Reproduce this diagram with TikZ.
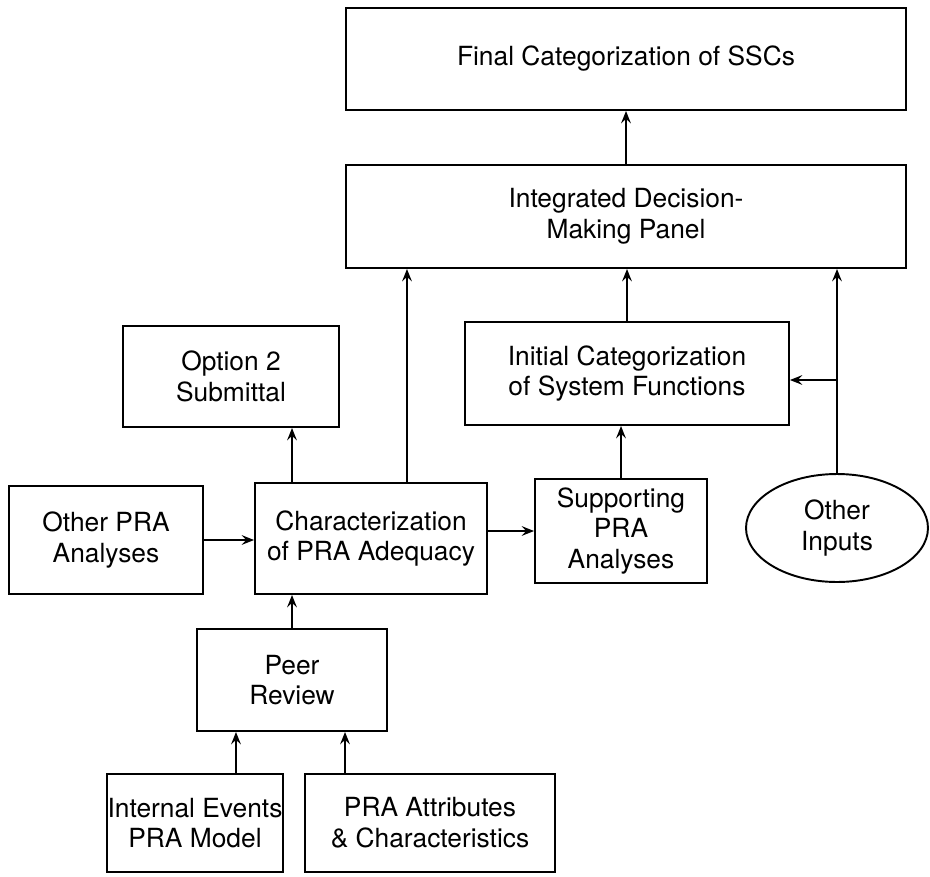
\documentclass[tikz,border=0pt]{standalone}
\usepackage{fontspec}
\setmainfont{TeX Gyre Heros}
\usetikzlibrary{arrows.meta,calc,shapes.geometric}

\begin{document}
\begin{tikzpicture}[x=0.02cm,y=-0.02cm,
  box/.style={draw,line width=1.1pt,align=center,inner sep=0pt,
    font=\fontsize{15}{17.5}\selectfont},
  flow/.style={-{Stealth[length=7pt,width=5.5pt,inset=2.5pt]},line width=1.1pt}]
\useasboundingbox (0,0) rectangle (930,876);

% top of the chart
\node[box,minimum width=11.2cm,minimum height=2.04cm] (final) at (626,59) {Final Categorization of SSCs};
\node[box,minimum width=11.2cm,minimum height=2.06cm] (panel) at (626,216.5) {Integrated Decision-\\Making Panel};

% middle row
\node[box,minimum width=4.32cm,minimum height=2.02cm] (option) at (231,376.5) {Option 2\\Submittal};
\node[box,minimum width=6.48cm,minimum height=2.06cm] (initial) at (627,373.5) {Initial Categorization\\of System Functions};

\node[box,minimum width=3.88cm,minimum height=2.16cm] (otherpra) at (106,540) {Other PRA\\Analyses};
\node[box,minimum width=4.64cm,minimum height=2.22cm] (charac) at (371,538.5) {Characterization\\of PRA Adequacy};
\node[box,minimum width=3.44cm,minimum height=2.08cm] (support) at (621,531) {Supporting\\PRA\\Analyses};
\node[box,ellipse,minimum width=3.64cm,minimum height=2.16cm] (inputs) at (837,528) {Other\\Inputs};

% bottom
\node[box,minimum width=3.8cm,minimum height=2.04cm] (peer) at (292,680) {Peer\\Review};
\node[box,minimum width=3.52cm,minimum height=1.96cm] (internal) at (195,823) {Internal Events\\PRA Model};
\node[box,minimum width=5.0cm,minimum height=1.96cm] (attrib) at (430,823) {PRA Attributes\\\& Characteristics};

\draw[flow] (panel) -- (final);
\draw[flow] ([xshift=0.72cm]charac.north) -- ([xshift=0.72cm]charac.north |- panel.south);
\draw[flow] (initial) -- (initial |- panel.south);
\draw[flow] (inputs.north) -- (inputs.north |- panel.south);
\draw[flow] ([yshift=-0.13cm]inputs.north |- initial.east) -- ([yshift=-0.13cm]initial.east);

\draw[flow] (peer.north |- charac.north) -- (peer.north |- option.south);
\draw[flow] (otherpra.east) -- (otherpra.east -| charac.west);
\draw[flow] (charac.east |- support) -- (support.west);
\draw[flow] (support.north) -- (support.north |- initial.south);

\draw[flow] (peer.north) -- (peer.north |- charac.south);
\draw[flow] ([xshift=0.82cm]internal.north) -- ([xshift=0.82cm]internal.north |- peer.south);
\draw[flow] ([xshift=-1.7cm]attrib.north) -- ([xshift=-1.7cm]attrib.north |- peer.south);

\end{tikzpicture}
\end{document}
